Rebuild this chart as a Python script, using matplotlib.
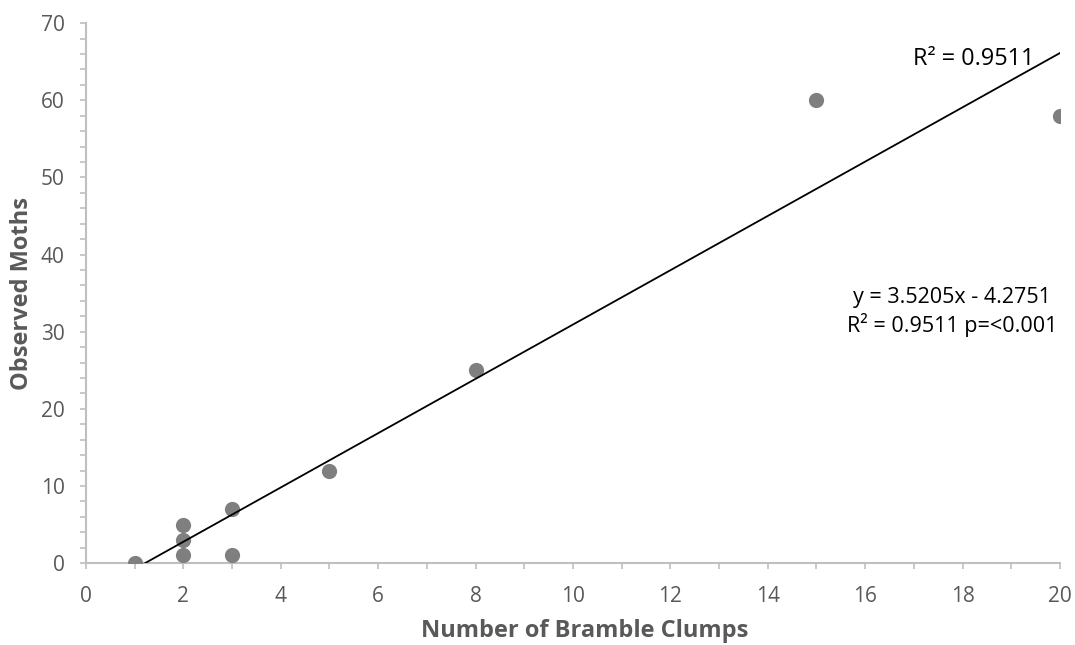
import numpy as np
import matplotlib.pyplot as plt
from matplotlib.ticker import MultipleLocator

# Bramble clumps vs observed moths
clumps = np.array([1, 2, 2, 2, 3, 3, 5, 8, 15, 20])
moths = np.array([0, 5, 3, 1, 7, 1, 12, 25, 60, 58])
slope, intercept = 3.5205, -4.2751

plt.rcParams['font.family'] = ['Open Sans', 'DejaVu Sans']
grey = '#595959'
axc = '#bfbfbf'

fig = plt.figure(figsize=(10.75, 6.45), dpi=100)
ax = fig.add_axes([0.08, 0.127, 0.906, 0.837])

ax.scatter(clumps, moths, s=120, color='#7f7f7f', zorder=3, linewidths=0)
xl = np.array([clumps.min(), clumps.max()])
ax.plot(xl, slope * xl + intercept, color='black', lw=1.3, zorder=4)

ax.set_xlim(0, 20)
ax.set_ylim(0, 70)
ax.xaxis.set_major_locator(MultipleLocator(2))
ax.xaxis.set_minor_locator(MultipleLocator(1))
ax.yaxis.set_major_locator(MultipleLocator(10))
ax.yaxis.set_minor_locator(MultipleLocator(2))

for s in ['top', 'right']:
    ax.spines[s].set_visible(False)
for s in ['left', 'bottom']:
    ax.spines[s].set_color(axc)
    ax.spines[s].set_linewidth(1.5)
ax.tick_params(which='both', colors=axc, labelcolor=grey, labelsize=15, width=1.2, length=4.5)
ax.tick_params(axis='x', which='major', pad=12)
ax.tick_params(axis='y', which='major', pad=11)

ax.set_xlabel('Number of Bramble Clumps', fontsize=17, fontweight='bold', color=grey)
ax.xaxis.set_label_coords(0.512, -0.104)
ax.set_ylabel('Observed Moths', fontsize=17, fontweight='bold', color=grey, labelpad=5)

ax.text(16.98, 65.4, 'R² = 0.9511', fontsize=16.8, color='black', va='center', ha='left')
ax.text(19.94, 32.6, 'y = 3.5205x - 4.2751\nR² = 0.9511 p=<0.001', fontsize=15.5,
        color='black', va='center', ha='right', multialignment='center', linespacing=1.25)

fig.savefig('out.png', dpi=100)
